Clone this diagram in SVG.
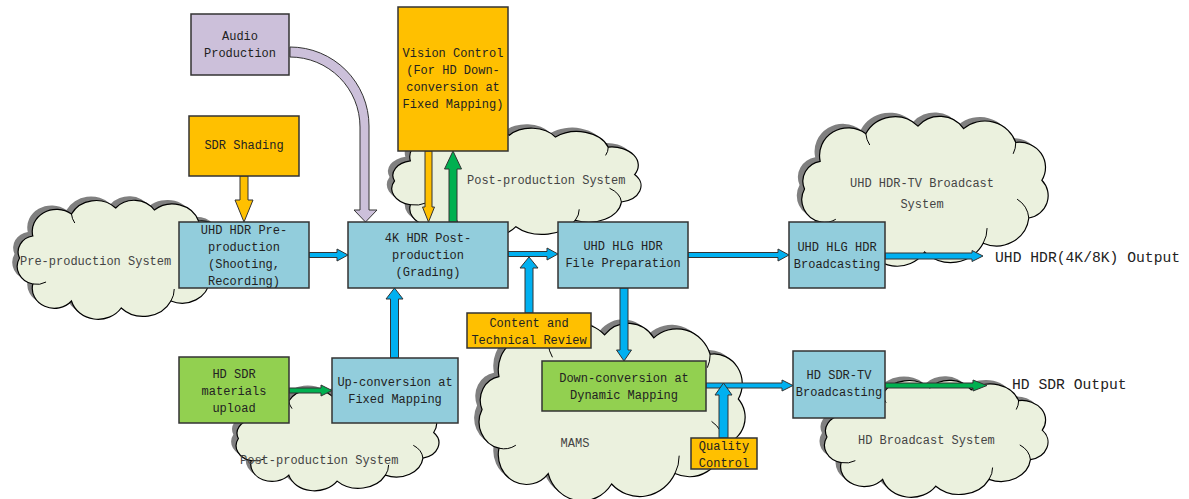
<svg xmlns="http://www.w3.org/2000/svg" xmlns:xlink="http://www.w3.org/1999/xlink" width="1189" height="499" viewBox="0 0 1189 499">
<style>
.cf{fill:#EBF1DE;stroke:#000;stroke-width:1.2}
.csh{fill:#808080;stroke:none}
.ci{fill:none;stroke:#000;stroke-width:1}
.box{stroke:#333;stroke-width:1.5}
.blue{fill:#92CDDC}
.org{fill:#FFC000}
.grn{fill:#92D050}
.lav{fill:#CCC0DA}
.t{font-family:"Liberation Mono","DejaVu Sans Mono",monospace;font-size:12px;fill:#222;text-anchor:middle}
.ct{font-family:"Liberation Mono","DejaVu Sans Mono",monospace;font-size:12px;fill:#444}
.ot{font-family:"Liberation Mono","DejaVu Sans Mono",monospace;font-size:14.7px;fill:#222}
.ab{fill:#00B0F0;stroke:#333;stroke-width:1}
.ag{fill:#00B050;stroke:#333;stroke-width:1}
.ao{fill:#FFC000;stroke:#333;stroke-width:1}
.al{fill:#CCC0DA;stroke:#333;stroke-width:1}
</style>
<defs>
<path id="cl" vector-effect="non-scaling-stroke" d="M20,40 A22,22 0 0,1 55,18 A25,25 0 0,1 95,12 A22,22 0 0,1 130,14 A25,25 0 0,1 170,25 A20,20 0 0,1 190,55 A18,18 0 0,1 180,85 A25,25 0 0,1 145,105 A28,28 0 0,1 100,112 A25,25 0 0,1 55,105 A20,20 0 0,1 20,88 A18,18 0 0,1 8,62 A16,16 0 0,1 20,40 Z"/>
<path id="cli" vector-effect="non-scaling-stroke" d="M20,88 A16,16 0 0,0 32,86 M145,105 A25,25 0 0,0 148,93 M180,85 A20,20 0 0,0 171,70 M55,18 A20,20 0 0,0 58,27 M170,25 A20,20 0 0,1 168,34"/>
</defs>

<g id="clouds">
<g id="cloud-preproduction">
<use href="#cl" class="csh" transform="translate(5.7,192) scale(1.105,1)"/>
<use href="#cl" class="cf" transform="translate(10.7,196) scale(1.105,1)"/>
<use href="#cli" class="ci" transform="translate(10.7,196) scale(1.105,1)"/>
<text class="ct" x="20" y="265">Pre-production System</text>
</g>
<g id="cloud-post-top">
<use href="#cl" class="csh" transform="translate(379,120.3) scale(1.319,0.914)"/>
<use href="#cl" class="cf" transform="translate(384,124.3) scale(1.319,0.914)"/>
<use href="#cli" class="ci" transform="translate(384,124.3) scale(1.319,0.914)"/>
<text class="ct" x="467" y="184">Post-production System</text>
</g>
<g id="cloud-uhd-broadcast">
<use href="#cl" class="csh" transform="translate(789.1,107) scale(1.304,1.259)"/>
<use href="#cl" class="cf" transform="translate(794.1,111) scale(1.304,1.259)"/>
<use href="#cli" class="ci" transform="translate(794.1,111) scale(1.304,1.259)"/>
<text class="ct" x="922" y="187" text-anchor="middle">UHD HDR-TV Broadcast</text>
<text class="ct" x="922" y="208" text-anchor="middle">System</text>
</g>
<g id="cloud-post-bottom">
<use href="#cl" class="csh" transform="translate(224.8,381.6) scale(1.073,0.853)"/>
<use href="#cl" class="cf" transform="translate(229.8,385.6) scale(1.073,0.853)"/>
<use href="#cli" class="ci" transform="translate(229.8,385.6) scale(1.073,0.853)"/>
<text class="ct" x="240" y="464">Post-production System</text>
</g>
<g id="cloud-mams">
<use href="#cl" class="csh" transform="translate(465.8,313) scale(1.408,1.491)"/>
<use href="#cl" class="cf" transform="translate(470.8,317) scale(1.408,1.491)"/>
<use href="#cli" class="ci" transform="translate(470.8,317) scale(1.408,1.491)"/>
<text class="ct" x="575" y="447" text-anchor="middle">MAMS</text>
</g>
<g id="cloud-hd-broadcast">
<use href="#cl" class="csh" transform="translate(812.5,372.1) scale(1.183,0.983)"/>
<use href="#cl" class="cf" transform="translate(817.5,376.1) scale(1.183,0.983)"/>
<use href="#cli" class="ci" transform="translate(817.5,376.1) scale(1.183,0.983)"/>
<text class="ct" x="858" y="444">HD Broadcast System</text>
</g>
</g>

<g id="connectors">
<path class="al" d="M290,47 A79,79 0 0 1 369,126 L369,210 L377,210 L365.5,222 L354,210 L360,210 L360,127 A70,70 0 0 0 290,57 Z"/>
<path class="ab" d="M309,252.5 H337 V249 L348,255 L337,261 V257.5 H309 Z"/>
<path class="ab" d="M508,251.5 H547 V248 L558,254 L547,260 V256.5 H508 Z"/>
<path class="ab" d="M688,252.5 H778 V249 L789,255 L778,261 V257.5 H688 Z"/>
<path class="ab" d="M885,253 H972 V250.5 L983,256 L972,261.5 V259 H885 Z"/>
<path class="ab" d="M706,383 H782 V380 L793,385.5 L782,391 V388 H706 Z"/>
<path class="ag" d="M289,388 H321 V385 L332,390.5 L321,396 V393 H289 Z"/>
<path class="ag" d="M885,383 H973 V380 L987,385.5 L973,391 V388 H885 Z"/>
<path class="ab" d="M390.5,358 V299 H386 L394.5,288 L403,299 H398.5 V358 Z"/>
<path class="ab" d="M525,313 V268 H520 L529,257 L538,268 H533 V313 Z"/>
<path class="ab" d="M719,438 V395 H715 L723.5,383 L732,395 H728 V438 Z"/>
<path class="ag" d="M449,222 V169 H444.5 L453,151 L461.5,169 H457 V222 Z"/>
<path class="ab" d="M620,288 V350 H616.5 L624,361 L631.5,350 H628 V288 Z"/>
<path class="ao" d="M425,151 V207 H422.5 L428.5,222 L434.5,207 H432 V151 Z"/>
<path class="ao" d="M240,176 V200 H235 L244,222 L253,200 H248 V176 Z"/>
</g>

<g id="audio-production">
<rect class="box lav" x="191" y="14" width="98" height="61"/>
<text class="t" x="240" y="40">Audio</text>
<text class="t" x="240" y="57">Production</text>
</g>
<g id="vision-control">
<rect class="box org" x="398" y="7" width="110" height="144"/>
<text class="t" x="453" y="57">Vision Control</text>
<text class="t" x="453" y="74">(For HD Down-</text>
<text class="t" x="453" y="91">conversion at</text>
<text class="t" x="453" y="108">Fixed Mapping)</text>
</g>
<g id="sdr-shading">
<rect class="box org" x="189" y="116" width="110" height="60"/>
<text class="t" x="244" y="149">SDR Shading</text>
</g>
<g id="uhd-preproduction">
<rect class="box blue" x="179" y="222" width="130" height="66"/>
<text class="t" x="244" y="234">UHD HDR Pre-</text>
<text class="t" x="244" y="251">production</text>
<text class="t" x="244" y="268">(Shooting,</text>
<text class="t" x="244" y="285">Recording)</text>
</g>
<g id="post-production-4k">
<rect class="box blue" x="348" y="222" width="160" height="66"/>
<text class="t" x="428" y="242">4K HDR Post-</text>
<text class="t" x="428" y="259">production</text>
<text class="t" x="428" y="276">(Grading)</text>
</g>
<g id="file-preparation">
<rect class="box blue" x="558" y="222" width="130" height="66"/>
<text class="t" x="623" y="250">UHD HLG HDR</text>
<text class="t" x="623" y="267">File Preparation</text>
</g>
<g id="uhd-broadcasting">
<rect class="box blue" x="789" y="222" width="96" height="66"/>
<text class="t" x="837" y="251">UHD HLG HDR</text>
<text class="t" x="837" y="268">Broadcasting</text>
</g>
<g id="content-review">
<rect class="box org" x="467" y="313" width="124" height="35"/>
<text class="t" x="529" y="327">Content and</text>
<text class="t" x="529" y="344">Technical Review</text>
</g>
<g id="hd-sdr-upload">
<rect class="box grn" x="179" y="357" width="110" height="66"/>
<text class="t" x="234" y="378">HD SDR</text>
<text class="t" x="234" y="395">materials</text>
<text class="t" x="234" y="412">upload</text>
</g>
<g id="up-conversion">
<rect class="box blue" x="332" y="358" width="126" height="65"/>
<text class="t" x="395" y="386">Up-conversion at</text>
<text class="t" x="395" y="403">Fixed Mapping</text>
</g>
<g id="down-conversion">
<rect class="box grn" x="542" y="361" width="164" height="50"/>
<text class="t" x="624" y="382">Down-conversion at</text>
<text class="t" x="624" y="399">Dynamic Mapping</text>
</g>
<g id="quality-control">
<rect class="box org" x="691" y="438" width="66" height="31"/>
<text class="t" x="724" y="450">Quality</text>
<text class="t" x="724" y="467">Control</text>
</g>
<g id="hd-sdr-broadcasting">
<rect class="box blue" x="793" y="351" width="92" height="67"/>
<text class="t" x="839" y="379">HD SDR-TV</text>
<text class="t" x="839" y="396">Broadcasting</text>
</g>
<g id="outputs">
<text class="ot" x="995" y="262">UHD HDR(4K/8K) Output</text>
<text class="ot" x="1012" y="389">HD SDR Output</text>
</g>
</svg>
